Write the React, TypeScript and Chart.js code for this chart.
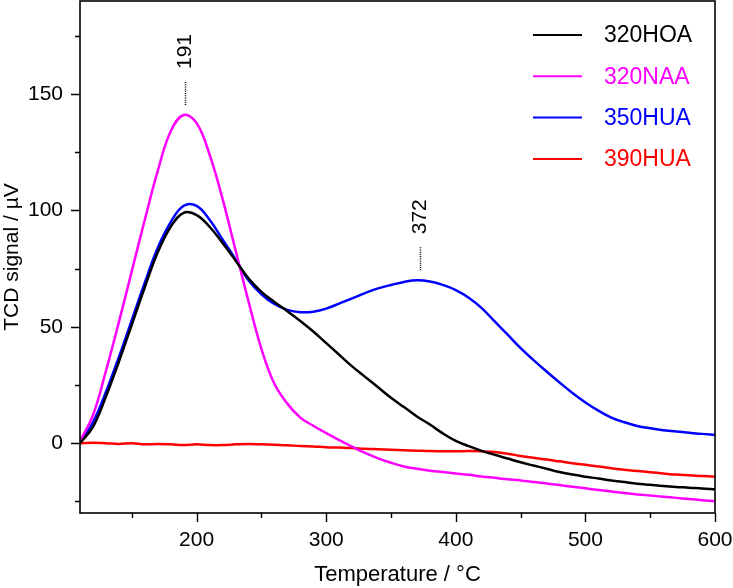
import React, { useEffect, useRef } from "react";
import { Chart, registerables } from "chart.js";

Chart.register(...registerables);

// Temperature grid (°C) shared by all TPD traces
const temperatures = [
  110, 120, 130, 140, 150, 160, 170, 180, 190, 200,
  210, 220, 230, 240, 250, 260, 270, 280, 290, 300,
  310, 320, 330, 340, 350, 360, 370, 380, 390, 400,
  410, 420, 430, 440, 450, 460, 470, 480, 490, 500,
  510, 520, 530, 540, 550, 560, 570, 580, 590, 600,
];

// TCD signal (µV) for each sample
const signal320HOA = [
  0, 7, 20, 35, 51, 67, 82, 93, 99, 98,
  93, 86, 78.5, 70.8, 65, 60.7, 56.7, 52.5, 48, 43,
  38, 33, 28.5, 24, 19.5, 15.5, 11.5, 8, 4.2, 1,
  -1.3, -3.3, -5, -6.6, -8.2, -9.6, -11, -12.4, -13.5, -14.4,
  -15.2, -16, -16.7, -17.4, -17.9, -18.4, -18.8, -19.1, -19.5, -19.8,
];
const signal320NAA = [
  1, 12, 31, 52, 74, 96, 117, 134, 141, 137.5,
  124, 105, 83, 61, 40.5, 25.5, 17, 11, 7.5, 4.3,
  1.3, -1.5, -4.2, -6.5, -8.4, -10, -11, -11.8, -12.4, -13,
  -13.6, -14.3, -14.9, -15.5, -16, -16.7, -17.3, -18, -18.7, -19.4,
  -20.1, -20.8, -21.4, -22, -22.5, -23, -23.5, -24, -24.5, -25,
];
const signal350HUA = [
  0.5, 9, 22, 37, 53, 69, 84, 95, 102, 102,
  96, 87.5, 79, 70, 64, 59.8, 57.3, 56.3, 56.5, 57.8,
  60, 62.2, 64.5, 66.5, 68, 69.3, 70, 69.5, 68, 65.8,
  62.5, 58, 52.3, 46.6, 40.8, 35.7, 30.8, 26.1, 21.6, 17.5,
  14, 11, 9, 7.4, 6.4, 5.6, 5, 4.5, 4, 3.6,
];
const signal390HUA = [
  0, 0.2, 0, -0.3, 0, -0.5, -0.3, -0.5, -0.8, -0.5,
  -0.8, -0.8, -0.5, -0.3, -0.5, -0.7, -0.9, -1.2, -1.4, -1.7,
  -1.9, -2.1, -2.4, -2.6, -2.8, -3, -3.2, -3.4, -3.5, -3.5,
  -3.4, -3.5, -3.8, -4.5, -5.5, -6.3, -7, -7.8, -8.6, -9.3,
  -10, -10.8, -11.4, -12, -12.5, -13, -13.5, -13.8, -14.1, -14.4,
];

const seriesNames = ["320HOA", "320NAA", "350HUA", "390HUA"];
const seriesValues = [signal320HOA, signal320NAA, signal350HUA, signal390HUA];
const seriesColors = ["#000000", "#ff00ff", "#0000ff", "#ff0000"];

// Axis ticks: labelled majors plus unlabelled minors
const xTickValues = [150, 200, 250, 300, 350, 400, 450, 500, 550, 600];
const xLabelStep = 100;
const yTickValues = [-25, 0, 25, 50, 75, 100, 125, 150, 175];
const yLabelStep = 50;

// Peak maxima marked with a dotted leader and rotated label
const peakTemps = [191, 372];
const peakSignals = [141, 70];

const FONT = "'Liberation Sans', Arial, sans-serif";

const framePlugin = {
  id: "frameTicks",
  afterDatasetsDraw(chart: any) {
    const { ctx, chartArea: a, scales } = chart;
    ctx.save();
    ctx.strokeStyle = "#000";
    ctx.lineWidth = 1.6;
    ctx.strokeRect(a.left, a.top, a.right - a.left, a.bottom - a.top);
    ctx.lineWidth = 1.4;
    ctx.beginPath();
    xTickValues.forEach((v) => {
      const px = Math.round(scales.x.getPixelForValue(v)) + 0.5;
      const len = v % xLabelStep === 0 ? 9 : 5;
      ctx.moveTo(px, a.bottom);
      ctx.lineTo(px, a.bottom + len);
    });
    yTickValues.forEach((v) => {
      const py = Math.round(scales.y.getPixelForValue(v)) + 0.5;
      const len = v % yLabelStep === 0 ? 9 : 5;
      ctx.moveTo(a.left, py);
      ctx.lineTo(a.left - len, py);
    });
    ctx.stroke();
    ctx.restore();
  },
};

const peakPlugin = {
  id: "peakLabels",
  afterDatasetsDraw(chart: any) {
    const { ctx, scales } = chart;
    ctx.save();
    peakTemps.forEach((t, i) => {
      const px = Math.round(scales.x.getPixelForValue(t)) + 0.5;
      const py = scales.y.getPixelForValue(peakSignals[i]);
      ctx.strokeStyle = "#000";
      ctx.lineWidth = 1.5;
      ctx.setLineDash([1, 1.2]);
      ctx.beginPath();
      ctx.moveTo(px, py - 10);
      ctx.lineTo(px, py - 33);
      ctx.stroke();
      ctx.setLineDash([]);
      ctx.translate(px, py - 46);
      ctx.rotate(-Math.PI / 2);
      ctx.fillStyle = "#000";
      ctx.font = `21px ${FONT}`;
      ctx.textAlign = "left";
      ctx.textBaseline = "middle";
      ctx.fillText(String(t), 0, 0);
      ctx.setTransform(1, 0, 0, 1, 0, 0);
    });
    ctx.restore();
  },
};

const legendPlugin = {
  id: "insideLegend",
  afterDraw(chart: any) {
    const { ctx } = chart;
    ctx.save();
    ctx.font = `23px ${FONT}`;
    ctx.textBaseline = "middle";
    ctx.textAlign = "left";
    seriesNames.forEach((name, i) => {
      const y = 35 + i * 41.3;
      ctx.strokeStyle = seriesColors[i];
      ctx.lineWidth = 2;
      ctx.beginPath();
      ctx.moveTo(533, y);
      ctx.lineTo(582, y);
      ctx.stroke();
      ctx.fillStyle = seriesColors[i];
      ctx.fillText(name, 604, y + 1);
    });
    ctx.restore();
  },
};

export default function App() {
  const canvasRef = useRef<HTMLCanvasElement>(null);

  useEffect(() => {
    document.body.style.margin = "0";
    const canvas = canvasRef.current;
    if (!canvas) return;

    const datasets = seriesNames.map((name, i) => ({
      label: name,
      data: temperatures.map((t, k) => ({ x: t, y: seriesValues[i][k] })),
      borderColor: seriesColors[i],
      backgroundColor: seriesColors[i],
      borderWidth: 2.5,
      pointRadius: 0,
      tension: 0.4,
      fill: false,
    }));

    const chart = new Chart(canvas, {
      type: "line",
      data: { datasets },
      options: {
        animation: false,
        responsive: false,
        maintainAspectRatio: false,
        layout: { padding: { top: 1, right: 18, left: 0, bottom: 0 } },
        plugins: {
          legend: { display: false },
          tooltip: { enabled: false },
        },
        scales: {
          x: {
            type: "linear",
            min: 110,
            max: 600,
            afterBuildTicks: (scale: any) => {
              scale.ticks = xTickValues.map((v) => ({ value: v }));
            },
            afterFit: (scale: any) => {
              scale.height = 75;
              scale.paddingLeft = 0;
              scale.paddingRight = 0;
            },
            ticks: {
              autoSkip: false,
              maxRotation: 0,
              padding: 6,
              color: "#000",
              font: { family: FONT, size: 21 },
              callback: (v: any) => (Number(v) % xLabelStep === 0 ? String(v) : ""),
            },
            grid: {
              drawOnChartArea: false,
              drawTicks: true,
              tickLength: 9,
              tickColor: "rgba(0,0,0,0)",
            },
            border: { display: false },
            title: {
              display: true,
              text: "Temperature / °C",
              color: "#000",
              font: { family: FONT, size: 22 },
              padding: { top: 0, bottom: 0 },
            },
          },
          y: {
            type: "linear",
            min: -30,
            max: 190,
            afterBuildTicks: (scale: any) => {
              scale.ticks = yTickValues.map((v) => ({ value: v }));
            },
            afterFit: (scale: any) => {
              scale.width = 80;
              scale.paddingTop = 0;
              scale.paddingBottom = 0;
            },
            ticks: {
              autoSkip: false,
              padding: 8,
              color: "#000",
              font: { family: FONT, size: 21 },
              callback: (v: any) => (Number(v) % yLabelStep === 0 ? String(v) : ""),
            },
            grid: {
              drawOnChartArea: false,
              drawTicks: true,
              tickLength: 9,
              tickColor: "rgba(0,0,0,0)",
            },
            border: { display: false },
            title: {
              display: true,
              text: "TCD signal / µV",
              color: "#000",
              font: { family: FONT, size: 21 },
              padding: { top: 0, bottom: 0 },
            },
          },
        },
      },
      plugins: [framePlugin, peakPlugin, legendPlugin],
    });

    return () => chart.destroy();
  }, []);

  return <canvas ref={canvasRef} width={733} height={588} style={{ display: "block" }} />;
}
